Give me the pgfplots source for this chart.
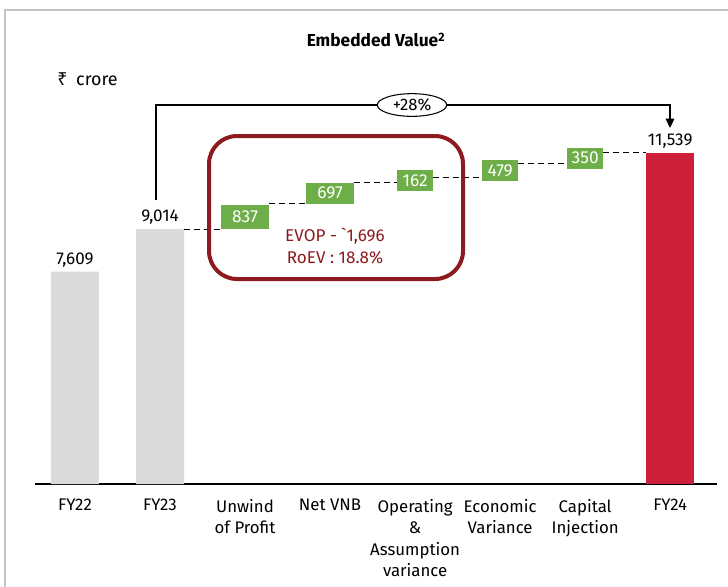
\documentclass[border=0pt]{standalone}
\usepackage{fontspec}
\setmainfont{Fira Sans}
\newfontfamily\rupfont{Noto Sans}
\usepackage{pgfplots}
\pgfplotsset{compat=1.18}
\usepackage{pgfplotstable}
\usetikzlibrary{arrows.meta,shapes.geometric}

\definecolor{evgray}{HTML}{D9DADC}
\definecolor{evred}{HTML}{CC1F39}
\definecolor{evgreen}{HTML}{6DAE48}
\definecolor{evdark}{HTML}{8C1A1E}
\definecolor{frame}{HTML}{C4C4C4}

% opening, step and closing values (Rs crore)
\pgfplotstableread{
x y lab
0 7609 7,609
1 9014 9,014
}\opening
\pgfplotstableread{
x y lab
7 11539 11,539
}\closing
% step boxes sit at the midpoint of each step
\pgfplotstableread{
x y lab
2 9432.5 837
}\stepa
\pgfplotstableread{
x y lab
3 10199.5 697
}\stepb
\pgfplotstableread{
x y lab
4 10629 162
5 10949.5 479
6 11364 350
}\stepc

\begin{document}
\begin{tikzpicture}
\path[use as bounding box] (0,0) rectangle (546pt,-439.5pt);

\begin{axis}[
  at={(26.25pt,-363pt)}, anchor=south west,
  scale only axis, width=511.5pt, height=318pt,
  xmin=-0.47, xmax=7.55, ymin=600, ymax=14600,
  axis x line=bottom, axis y line=none,
  x axis line style={line width=2.2pt,-},
  xtick={0,...,7},
  xticklabels={FY22, FY23, Unwind\\of Profit, Net VNB,
    Operating\\\&\\Assumption\\variance, Economic\\Variance,
    Capital\\Injection, FY24},
  major tick length=0pt,
  xticklabel style={align=center, font=\fontsize{12.6}{16}\selectfont, yshift=-8pt},
  ytick=\empty,
  unbounded coords=jump,
]
\addplot[ybar, bar shift=0pt, bar width=36pt, fill=evgray, draw=none,
  nodes near coords, point meta=explicit symbolic,
  every node near coord/.append style={font=\fontsize{12.8}{15}\selectfont, text=black}]
  table[meta=lab] {\opening};
\addplot[ybar, bar shift=0pt, bar width=36pt, fill=evred, draw=none,
  nodes near coords, point meta=explicit symbolic,
  every node near coord/.append style={font=\fontsize{12.8}{15}\selectfont, text=black}]
  table[meta=lab] {\closing};

% connectors at the running total, edge to edge
\addplot[black, line width=0.8pt, dash pattern=on 4.5pt off 3pt] coordinates {
  (1.28,9014) (1.72,9014) (2,nan)
  (2.28,9851) (2.72,9851) (3,nan)
  (3.28,10548) (3.79,10548) (4,nan)
  (4.21,10710) (4.79,10710) (5,nan)
  (5.21,11189) (5.79,11189) (6,nan)
  (6.21,11539) (6.72,11539)
};

\pgfplotsset{stepbox/.style={only marks, mark=*, mark options={draw=none,fill=none},
  nodes near coords, point meta=explicit symbolic,
  every node near coord/.append style={anchor=center, fill=evgreen, text=white,
    inner sep=0pt, font=\fontsize{13}{15}\selectfont}}}
\addplot[stepbox, every node near coord/.append style={minimum width=36pt, minimum height=18pt}]
  table[meta=lab] {\stepa};
\addplot[stepbox, every node near coord/.append style={minimum width=36pt, minimum height=15.75pt}]
  table[meta=lab] {\stepb};
\addplot[stepbox, every node near coord/.append style={minimum width=27pt, minimum height=15.75pt}]
  table[meta=lab] {\stepc};
\end{axis}

\begin{scope}[x=0.75pt, y=-0.75pt]
  \draw[frame, line width=1.5pt] (5,590) -- (5,10) -- (732,10);
  \node[font=\bfseries\fontsize{13}{15}\selectfont] at (376,40) {Embedded Value\textsuperscript{2}};
  \node[anchor=west, inner sep=0pt, font=\fontsize{13.4}{15}\selectfont] at (57,79) {{\rupfont ₹}\hspace{3pt} crore};
  \draw[black, line width=0.8pt, -{Triangle[length=7pt,width=6.5pt]}]
    (156,200) -- (156,105) -- (670,105) -- (670,128);
  \node[ellipse, draw=black, line width=0.8pt, fill=white, inner sep=0pt,
    minimum width=52pt, minimum height=17pt, font=\fontsize{12.5}{14}\selectfont]
    at (412,105) {+28\%};
  \draw[evdark, line width=3pt, rounded corners=21pt] (209,136) rectangle (463,279);
  \node[text=evdark, align=center, font=\fontsize{12.8}{16.5}\selectfont] at (335,246)
    {EVOP - \textasciigrave1,696\\RoEV : 18.8\%};
\end{scope}
\end{tikzpicture}
\end{document}
